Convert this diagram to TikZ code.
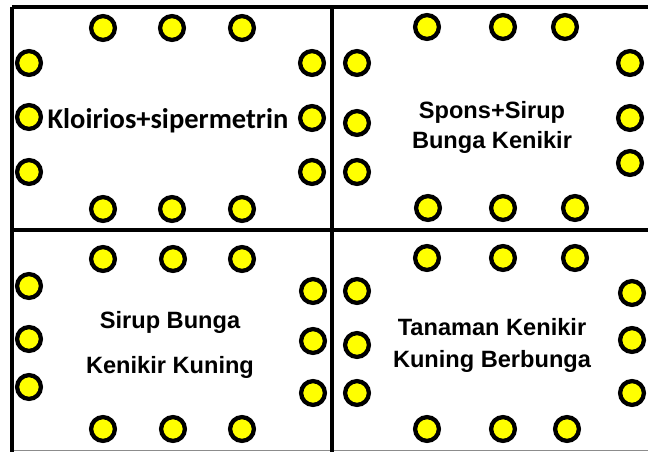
\documentclass[tikz,border=0pt]{standalone}
\usepackage{fontspec}
\newfontfamily\arialfont{Liberation Sans}
\newfontfamily\calibrifont{Carlito}
\definecolor{Trap}{HTML}{FFFF00}
\newcommand{\trap}[2]{%
  \filldraw[fill=Trap,draw=black,line width=4.3pt] (#1,#2) circle[radius=11.9];
}
\newcommand{\traprow}[4]{%
  \trap{#2}{#1}
  \trap{#3}{#1}
  \trap{#4}{#1}
}
\newcommand{\trapcol}[4]{%
  \trap{#1}{#2}
  \trap{#1}{#3}
  \trap{#1}{#4}
}

\begin{document}
\begin{tikzpicture}[x=1pt,y=-1pt,font=\arialfont\bfseries\fontsize{23.6}{28}\selectfont]
\path[use as bounding box] (0,0) rectangle (648,452);
% plot borders
\draw[black!45,line width=1.5pt] (12,450.5)--(648,450.5);
\draw[line width=3.2pt] (12,7)--(648,7);
\draw[line width=3.2pt] (12,7)--(12,452);
\draw[line width=3.2pt] (332,7)--(332,452);
\draw[line width=3.2pt] (12,230)--(648,230);

% top left
\traprow{28}{103}{172}{242}
\trapcol{29}{63}{117}{172}
\trapcol{312}{63}{118}{172}
\traprow{209}{103}{172}{242}
\node[anchor=base,font=\calibrifont\bfseries\fontsize{28.5}{32}\selectfont] (kloirios) at (168,128) {Kloirios+sipermetrin};

% top right
\traprow{27}{427}{503}{565}
\trapcol{357}{63}{123}{172}
\trapcol{630}{63}{118}{163}
\traprow{208}{428}{503}{575}
\node[anchor=base] (spons1) at (492,118) {Spons+Sirup};
\node[anchor=base] (spons2) at (492,148) {Bunga Kenikir};

% bottom left
\traprow{259}{103}{173}{242}
\trapcol{29}{286}{339}{387}
\trapcol{313}{291}{341}{393}
\traprow{429}{103}{173}{242}
\node[anchor=base] (sirup1) at (170,328) {Sirup Bunga};
\node[anchor=base] (sirup2) at (170,373) {Kenikir Kuning};

% bottom right
\traprow{258}{427}{503}{575}
\trapcol{357}{291}{345}{393}
\trapcol{632}{293}{340}{393}
\traprow{429}{427}{503}{567}
\node[anchor=base] (tanaman1) at (492,335) {Tanaman Kenikir};
\node[anchor=base] (tanaman2) at (492,367) {Kuning Berbunga};
\end{tikzpicture}
\end{document}
